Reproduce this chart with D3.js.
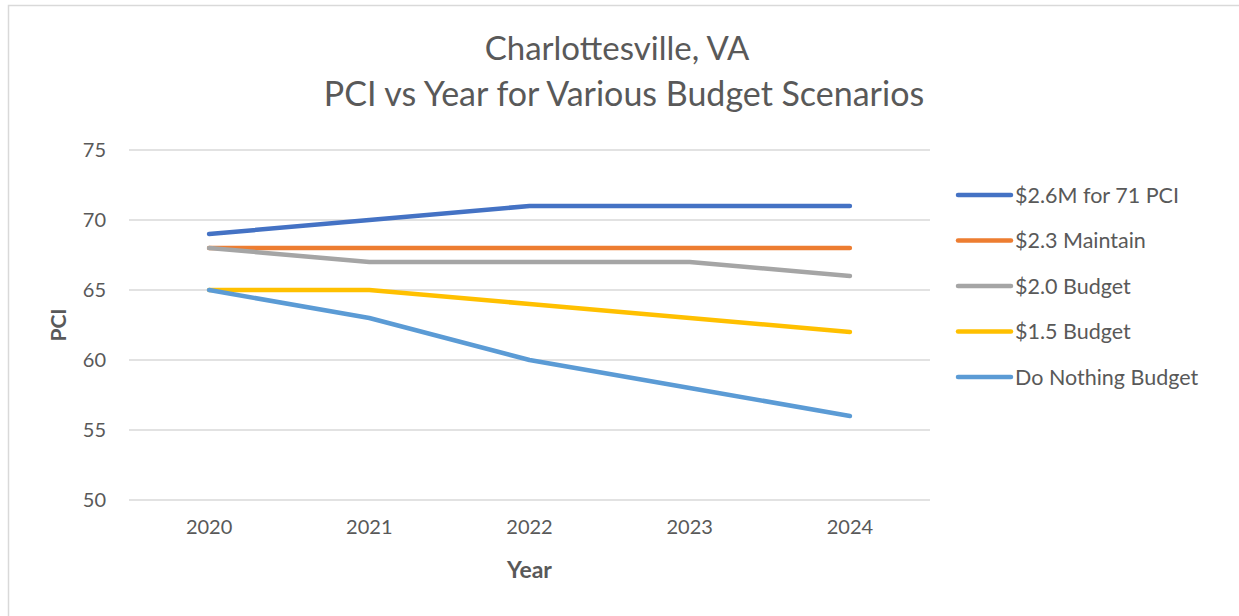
<!DOCTYPE html>
<html>
<head>
<meta charset="utf-8">
<script src="https://cdn.jsdelivr.net/npm/d3@7"></script>
<style>
  body { margin: 0; background: #fff; }
  svg { display: block; font-family: Lato, "Open Sans", sans-serif; }
</style>
</head>
<body>
<svg id="chart"></svg>
<script>
// data
var years = ['2020', '2021', '2022', '2023', '2024'];
var seriesNames = ['$2.6M for 71 PCI', '$2.3 Maintain', '$2.0 Budget', '$1.5 Budget', 'Do Nothing Budget'];
var pci71 = [69, 70, 71, 71, 71];
var maintain = [68, 68, 68, 68, 68];
var budget20 = [68, 67, 67, 67, 66];
var budget15 = [65, 65, 64, 63, 62];
var doNothing = [65, 63, 60, 58, 56];
var yTicks = [50, 55, 60, 65, 70, 75];
var colors = ['#4472C4', '#ED7D31', '#A5A5A5', '#FFC000', '#5B9BD5'];

var allValues = [pci71, maintain, budget20, budget15, doNothing];

var width = 1239, height = 616;
var plot = { left: 129, right: 930, top: 150, bottom: 500 };
var font = 'Lato, "Open Sans", sans-serif';

var svg = d3.select('#chart')
    .attr('width', width)
    .attr('height', height);

// outer chart border (only top and left visible in the frame)
svg.append('rect')
    .attr('x', 8.5).attr('y', 5.5)
    .attr('width', width + 20).attr('height', height + 20)
    .attr('fill', 'none')
    .attr('stroke', '#d9d9d9')
    .attr('stroke-width', 1.5);

var x = d3.scaleBand()
    .domain(years)
    .range([plot.left, plot.right]);

var y = d3.scaleLinear()
    .domain([50, 75])
    .range([plot.bottom, plot.top]);

// gridlines
svg.append('g')
    .selectAll('line')
    .data(yTicks)
    .enter()
    .append('line')
    .attr('x1', plot.left)
    .attr('x2', plot.right)
    .attr('y1', function(d) { return y(d); })
    .attr('y2', function(d) { return y(d); })
    .attr('stroke', '#d9d9d9')
    .attr('stroke-width', 1.5);

// y axis labels
var yAxis = d3.axisLeft(y).tickValues(yTicks).tickSize(0).tickPadding(23);
var gy = svg.append('g')
    .attr('transform', 'translate(' + plot.left + ',0)')
    .call(yAxis)
    .attr('font-family', font)
    .attr('font-size', 20);
gy.select('.domain').remove();
gy.selectAll('text').attr('fill', '#595959');

// x axis labels
var xAxis = d3.axisBottom(x).tickSize(0).tickPadding(20);
var gx = svg.append('g')
    .attr('transform', 'translate(0,' + plot.bottom + ')')
    .call(xAxis)
    .attr('font-family', font)
    .attr('font-size', 20);
gx.select('.domain').remove();
gx.selectAll('text').attr('fill', '#595959');

// lines
var line = d3.line()
    .x(function(d, i) { return x(years[i]) + x.bandwidth() / 2; })
    .y(function(d) { return y(d); });

svg.append('g')
    .selectAll('path')
    .data(allValues)
    .enter()
    .append('path')
    .attr('d', function(d) { return line(d); })
    .attr('fill', 'none')
    .attr('stroke', function(d, i) { return colors[i]; })
    .attr('stroke-width', 4.5)
    .attr('stroke-linecap', 'round')
    .attr('stroke-linejoin', 'round');

// title
var title = svg.append('text')
    .attr('text-anchor', 'middle')
    .attr('fill', '#595959')
    .style('font-size', '33px');
title.append('tspan').attr('x', 617).attr('y', 60).text('Charlottesville, VA');
title.append('tspan').attr('x', 624).attr('y', 106).style('font-size', '34px')
    .text('PCI vs Year for Various Budget Scenarios');

// axis titles
svg.append('text')
    .attr('x', (plot.left + plot.right) / 2)
    .attr('y', 578)
    .attr('text-anchor', 'middle')
    .attr('fill', '#595959')
    .style('font-size', '23px')
    .style('font-weight', 'bold')
    .text('Year');

svg.append('text')
    .attr('transform', 'translate(66,' + (plot.top + plot.bottom) / 2 + ') rotate(-90)')
    .attr('text-anchor', 'middle')
    .attr('fill', '#595959')
    .style('font-size', '21px')
    .style('font-weight', 'bold')
    .text('PCI');

// legend
var legend = svg.append('g')
    .selectAll('g')
    .data(seriesNames)
    .enter()
    .append('g')
    .attr('transform', function(d, i) { return 'translate(958,' + (195 + i * 45.5) + ')'; });

legend.append('line')
    .attr('x1', 0).attr('x2', 53)
    .attr('stroke', function(d, i) { return colors[i]; })
    .attr('stroke-width', 4.5)
    .attr('stroke-linecap', 'round');

legend.append('text')
    .attr('x', 57)
    .attr('dy', '0.35em')
    .attr('fill', '#595959')
    .style('font-size', '21.5px')
    .text(function(d) { return d; });
</script>
</body>
</html>
